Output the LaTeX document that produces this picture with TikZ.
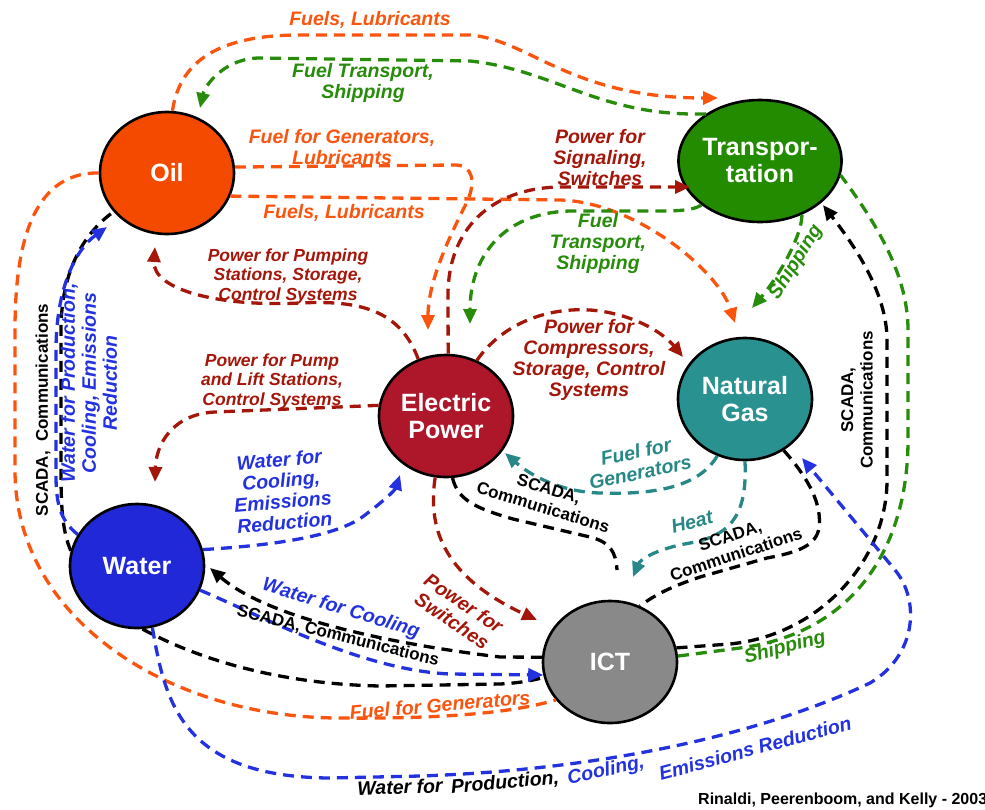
\documentclass[tikz,border=0pt]{standalone}
\usepackage{fontspec}
\setmainfont{Liberation Sans}
\usetikzlibrary{shapes.geometric,arrows.meta,calc}

\definecolor{oilC}{RGB}{244,74,0}
\definecolor{oilL}{RGB}{250,85,15}
\definecolor{trC}{RGB}{34,139,0}
\definecolor{trL}{RGB}{38,140,10}
\definecolor{ngC}{RGB}{42,145,145}
\definecolor{ngL}{RGB}{40,135,135}
\definecolor{epC}{RGB}{174,22,42}
\definecolor{epL}{RGB}{165,22,10}
\definecolor{waC}{RGB}{32,40,215}
\definecolor{waL}{RGB}{35,50,222}
\definecolor{ictC}{RGB}{137,137,137}

\begin{document}
\begin{tikzpicture}[x=1pt,y=-1pt,
  sector/.style={ellipse,draw=black,line width=2.6pt,minimum width=134pt,
    minimum height=122pt,inner sep=0pt,text=white,align=center,
    font=\fontsize{25}{27}\selectfont\bfseries},
  link/.style={line width=3.3pt,dash pattern=on 11pt off 7pt},
  arrowed/.style={-{Triangle[length=15pt,width=13pt]}},
  lbl/.style={align=center,inner sep=0pt,font=\fontsize{19.5}{21}\selectfont\bfseries\itshape},
  lblsm/.style={align=center,inner sep=0pt,font=\fontsize{17.5}{19.5}\selectfont\bfseries\itshape},
  scada/.style={align=center,inner sep=0pt,font=\fontsize{17}{19.5}\selectfont\bfseries},
]
\useasboundingbox (0,0) rectangle (985,809);

% infrastructure sectors
\node[sector,fill=oilC] (oil) at (167,173) {Oil};
\node[sector,fill=trC] (tr) at (760,161) {Transpor-\\tation};
\node[sector,fill=ngC] (ng) at (745,399) {Natural\\Gas};
\node[sector,fill=epC] (ep) at (446,416) {Electric\\Power};
\node[sector,fill=waC,minimum height=124pt] (wa) at (137,566) {Water};
\node[sector,fill=ictC] (ict) at (610,662) {ICT};

% oil supplies
\draw[link,oilL,arrowed] (oil.85) .. controls (180,60) and (220,35) .. (300,35) -- (470,35)
  .. controls (530,40) and (570,98) .. ($(tr)+(-42,-63)$);
\draw[link,oilL,arrowed] (oil.5) -- (455,165) .. controls (473,165) and (476,182) .. (467,202)
  .. controls (445,245) and (428,285) .. ($(ep)+(-18,-86)$);
\draw[link,oilL,arrowed] (oil.-20) -- (560,200) .. controls (635,202) and (718,270) .. ($(ng)+(-10,-76)$);
\draw[link,oilL] (oil.180) .. controls (30,172) and (15,250) .. (15,330) -- (15,470)
  .. controls (15,620) and (170,718) .. (340,718) .. controls (450,719) and (515,712) .. (ict.215);

% transportation services
\draw[link,trL,arrowed] (tr.139) .. controls (600,117) and (555,70) .. (470,61) -- (260,58)
  .. controls (225,58) and (205,85) .. ($(oil)+(33,-65)$);
\draw[link,trL,arrowed] (tr.217) .. controls (690,212) and (670,211) .. (630,211) -- (570,211)
  .. controls (500,213) and (470,260) .. ($(ep)+(24,-92)$);
\draw[link,trL,arrowed] (tr.-52) .. controls (802,235) and (780,275) .. ($(ng)+(7,-91)$);
\draw[link,trL] (ict.5) -- (740,648) .. controls (860,632) and (908,540) .. (908,440) -- (908,330)
  .. controls (908,270) and (870,215) .. (tr.-10);

% electric power supplies
\draw[link,epL,arrowed] (ep.116) .. controls (400,310) and (360,300) .. (300,303)
  .. controls (220,307) and (152,290) .. ($(oil)+(-12,74)$);
\draw[link,epL,arrowed] (ep.171) -- (215,412) .. controls (172,414) and (156,445) .. ($(wa)+(18,-84)$);
\draw[link,epL,arrowed] (ep.88) -- (448,295) .. controls (448,230) and (490,188) .. (560,187)
  -- ($(tr)+(-70,26)$);
\draw[link,epL,arrowed] (ep.61) .. controls (505,320) and (555,305) .. (600,311)
  .. controls (640,317) and (665,335) .. ($(ng)+(-62,-42)$);
\draw[link,epL,arrowed] (ep.-100) .. controls (428,525) and (440,575) .. ($(ict)+(-73,-42)$);

% natural gas supplies
\draw[link,ngL,arrowed] (ng.244) .. controls (700,485) and (660,495) .. (600,493)
  .. controls (560,492) and (530,475) .. ($(ep)+(59,37)$);
\draw[link,ngL,arrowed] (ng.270) .. controls (747,510) and (735,535) .. (690,543)
  .. controls (655,549) and (640,560) .. ($(ict)+(23,-85)$);

% SCADA and communications
\draw[link,black] (ep.-84) .. controls (458,500) and (475,508) .. (513,519) -- (590,537)
  .. controls (610,542) and (616,552) .. ($(ict)+(7,-92)$);
\draw[link,black] (ng.-53) .. controls (810,480) and (822,505) .. (819,528)
  .. controls (816,545) and (800,552) .. (767,558) -- (700,577)
  .. controls (670,587) and (655,595) .. (ict.62);
\draw[link,black,arrowed] (ict.12) -- (730,644) .. controls (820,635) and (887,560) .. (887,480)
  -- (887,340) .. controls (887,290) and (850,240) .. ($(tr)+(63,44)$);
\draw[link,black] (wa.167) .. controls (62,530) and (61,505) .. (61,470) -- (61,330)
  .. controls (61,270) and (85,232) .. (oil.216);
\draw[link,black,arrowed] (ict.176) -- (500,657) .. controls (400,645) and (270,620) .. ($(wa)+(73,2)$);
\draw[link,black] (wa.-85) .. controls (200,660) and (280,684) .. (380,686) -- (500,684)
  .. controls (520,683) and (535,680) .. (ict.193);

% water supplies
\draw[link,waL,arrowed] (wa.152) .. controls (59,520) and (56,500) .. (56,475) -- (56,350)
  .. controls (56,290) and (75,250) .. ($(oil)+(-60,54)$);
\draw[link,waL,arrowed] (wa.14) .. controls (280,545) and (340,535) .. (365,515)
  .. controls (385,500) and (395,490) .. ($(ep)+(-46,59)$);
\draw[link,waL,arrowed] (wa.-21) .. controls (260,615) and (360,670) .. (450,674) -- (ict.191);
\draw[link,waL,arrowed] (wa.-76) .. controls (165,700) and (180,777) .. (330,778) -- (420,776)
  .. controls (600,770) and (760,735) .. (870,683) .. controls (917,655) and (920,600) .. (895,570)
  -- ($(ng)+(57,59)$);

% flow labels
\node[lbl,oilL] at (370,20) {Fuels, Lubricants};
\node[lbl,trL] at (363,83) {Fuel Transport,\\Shipping};
\node[lbl,oilL] at (342,147) {Fuel for Generators,\\Lubricants};
\node[lbl,oilL] at (344,213) {Fuels, Lubricants};
\node[lblsm,epL] at (288,276) {Power for Pumping\\Stations, Storage,\\Control Systems};
\node[lblsm,epL] at (272,381) {Power for Pump\\and Lift Stations,\\Control Systems};
\node[lbl,epL] at (600,158) {Power for\\Signaling,\\Switches};
\node[lbl,trL] at (598,243) {Fuel\\Transport,\\Shipping};
\node[lbl,epL] at (589,360) {Power for\\Compressors,\\Storage, Control\\Systems};
\node[lbl,ngL,rotate=12] at (638,462) {Fuel for\\Generators};
\node[lbl,ngL,rotate=15] at (692,522) {Heat};
\node[scada,rotate=-17] at (546,498) {SCADA,\\Communications};
\node[scada,rotate=18] at (733,545) {SCADA,\\Communications};
\node[scada,rotate=90] at (857,400) {SCADA,\\Communications};
\node[lbl,trL,rotate=15] at (785,648) {Shipping};
\node[lbl,trL,rotate=58] at (796,262) {Shipping};
\node[scada,rotate=90] at (43,410) {SCADA,~~Communications};
\node[lbl,waL,rotate=90] at (89,383) {Water for Production,\\Cooling, Emissions\\Reduction};
\node[lbl,waL,rotate=5] at (282,491) {Water for\\Cooling,\\Emissions\\Reduction};
\node[lbl,waL,rotate=-17] at (341,609) {Water for Cooling};
\node[scada,rotate=-14] at (338,636) {SCADA, Communications};
\node[lbl,epL,rotate=-34] at (458,612) {Power for\\Switches};
\node[lbl,oilL,rotate=5] at (440,705) {Fuel for Generators};
\node[lbl,black,rotate=2] at (400,787) {Water for};
\node[lbl,black,rotate=5] at (505,783) {Production,};
\node[lbl,waL,rotate=12] at (606,771) {Cooling,};
\node[lbl,waL,rotate=15] at (755,748) {Emissions Reduction};

% source
\node[anchor=west,inner sep=0pt,font=\fontsize{16}{16}\selectfont\bfseries] at (698,800)
  {Rinaldi, Peerenboom, and Kelly - 2003};
\end{tikzpicture}
\end{document}
